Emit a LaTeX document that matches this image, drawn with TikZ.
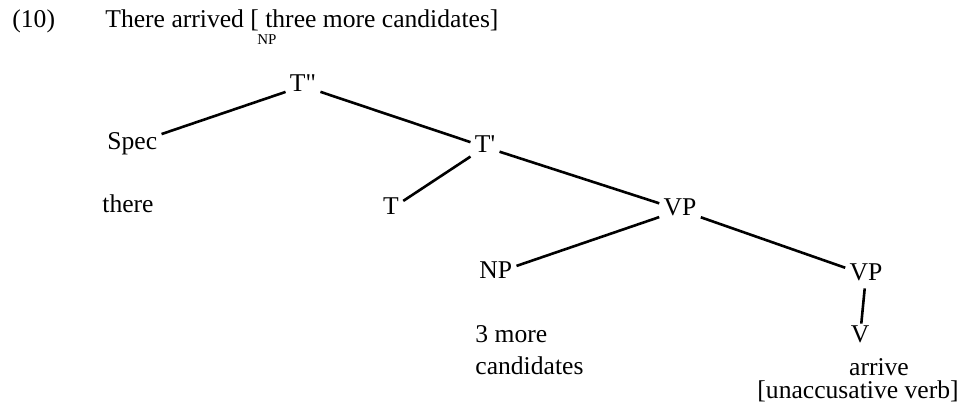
\documentclass[tikz,border=0pt]{standalone}
\usepackage{fontspec}
\setmainfont{Liberation Serif}
\begin{document}
\begin{tikzpicture}[
        x=0.5pt, y=-0.5pt,
        every node/.style = {font=\fontsize{12.8}{16}\selectfont},
        cat/.style = {inner sep=2pt, text height=0.7em, text depth=0.2em},
        txt/.style = {inner sep=0pt},
        branch/.style = {line width=1.3pt}
      ]
        \useasboundingbox (0,0) rectangle (964,413);

        \node[txt,anchor=base west] (ex) at (12,27) {(10)};
        \node[txt,anchor=base west] (sent) at (105,27) {There arrived [ three more candidates]};
        \node[txt,font=\fontsize{7.5}{8}\selectfont] (sub) at (267,40) {NP};

        \node[cat,anchor=base] (tt) at (303,91) {T\textquotedbl};
        \node[cat,anchor=base west] (spec) at (103,149) {Spec};
        \node[txt,anchor=base west] (there) at (102,212) {there};
        \node[cat,anchor=base] (tb) at (485,152) {T\textquotesingle};
        \node[cat,anchor=base] (t) at (391,214) {T};
        \node[cat,anchor=base] (vp) at (680,215) {VP};
        \node[cat,anchor=base west] (np) at (475,278) {NP};
        \node[txt,anchor=base west] (np1) at (475,342) {3 more};
        \node[txt,anchor=base west] (np2) at (475,374) {candidates};
        \node[cat,anchor=base] (vpb) at (866,280) {VP};
        \node[cat,anchor=base] (v) at (860,342) {V};
        \node[txt,anchor=base] (arr) at (879,375) {arrive};
        \node[txt,anchor=base] (unacc) at (858,398) {[unaccusative verb]};

        \draw[branch] (tt) -- (spec);
        \draw[branch] (tt) -- (tb);
        \draw[branch] (tb) -- (t);
        \draw[branch] (tb) -- (vp);
        \draw[branch] (vp) -- (np);
        \draw[branch] (vp) -- (vpb);
        \draw[branch] (vpb) -- (v);
      \end{tikzpicture}
\end{document}
